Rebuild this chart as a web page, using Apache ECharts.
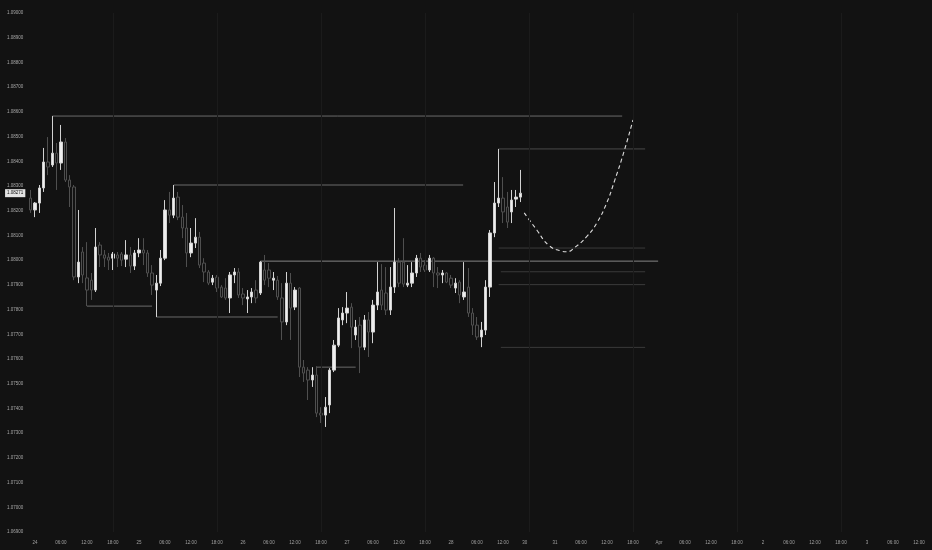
<!DOCTYPE html>
<html>
<head>
<meta charset="utf-8">
<script src="https://cdn.jsdelivr.net/npm/echarts@6/dist/echarts.min.js"></script>
<style>
html,body{margin:0;padding:0;background:#121212;}
#chart{width:932px;height:550px;}
</style>
</head>
<body>
<div id="chart"></div>
<script>
// Hourly bar slots: slot 0 = 24 Mar 00:00 (weekend hours skipped)
const firstSlot = -1;

const opens = [
1.08251,1.08203,1.08231,1.08292,1.08397,1.08385,1.08433,1.08393,1.08478,1.08324,
1.08296,1.07932,1.08033,1.07928,1.07919,1.07879,1.08061,1.08021,1.08012,1.08008,
1.08021,1.08025,1.08004,1.08021,1.07976,1.08029,1.08041,1.08029,1.07948,1.07879,
1.07907,1.08008,1.08203,1.08182,1.08255,1.08174,1.08130,1.08029,1.08069,1.08093,
1.07988,1.07952,1.07911,1.07931,1.07891,1.07887,1.07847,1.07940,1.07952,1.07863,
1.07843,1.07851,1.07879,1.07867,1.07960,1.07960,1.07919,1.07919,1.07847,1.07750,
1.07907,1.07810,1.07887,1.07567,1.07555,1.07515,1.07535,1.07381,1.07373,1.07414,
1.07555,1.07656,1.07758,1.07786,1.07810,1.07697,1.07737,1.07648,1.07758,1.07709,
1.07818,1.07879,1.07867,1.07798,1.07891,1.07992,1.07992,1.07899,1.07907,1.07948,
1.08008,1.07980,1.07960,1.08008,1.07948,1.07940,1.07948,1.07927,1.07887,1.07911,
1.07851,1.07891,1.07786,1.07737,1.07689,1.07717,1.07891,1.08110,1.08231,1.08251,
1.08215,1.08195,1.08247,1.08255
];
const closes = [
1.08203,1.08231,1.08292,1.08397,1.08377,1.08433,1.08393,1.08478,1.08324,1.08296,
1.07932,1.07992,1.07940,1.07879,1.07879,1.08053,1.08021,1.08008,1.08000,1.08025,
1.08008,1.08000,1.08021,1.07976,1.08029,1.08041,1.08029,1.07948,1.07899,1.07907,
1.08008,1.08203,1.08182,1.08251,1.08174,1.08130,1.08029,1.08069,1.08093,1.07980,
1.07952,1.07907,1.07927,1.07887,1.07851,1.07847,1.07940,1.07952,1.07859,1.07847,
1.07851,1.07871,1.07847,1.07992,1.07919,1.07927,1.07927,1.07851,1.07750,1.07907,
1.07806,1.07879,1.07567,1.07543,1.07515,1.07535,1.07381,1.07373,1.07405,1.07555,
1.07656,1.07766,1.07786,1.07806,1.07729,1.07729,1.07648,1.07758,1.07709,1.07818,
1.07871,1.07818,1.07798,1.07891,1.07992,1.07907,1.07903,1.07907,1.07948,1.08008,
1.07972,1.07960,1.08008,1.07948,1.07940,1.07948,1.07911,1.07899,1.07907,1.07859,
1.07871,1.07786,1.07737,1.07689,1.07717,1.07891,1.08110,1.08231,1.08251,1.08195,
1.08154,1.08243,1.08255,1.08271
];
const lows = [
1.08191,1.08174,1.08191,1.08276,1.08344,1.08377,1.08284,1.08365,1.08316,1.08215,
1.07919,1.07907,1.07907,1.07814,1.07839,1.07871,1.07972,1.07972,1.07960,1.07960,
1.07972,1.07976,1.07972,1.07948,1.07960,1.08012,1.07980,1.07932,1.07859,1.07770,
1.07895,1.08000,1.08150,1.08170,1.08162,1.08089,1.07972,1.08012,1.08049,1.07968,
1.07911,1.07899,1.07899,1.07871,1.07847,1.07839,1.07786,1.07907,1.07847,1.07818,
1.07786,1.07826,1.07826,1.07859,1.07899,1.07891,1.07879,1.07839,1.07677,1.07737,
1.07677,1.07798,1.07527,1.07507,1.07434,1.07487,1.07365,1.07341,1.07325,1.07381,
1.07547,1.07648,1.07737,1.07745,1.07644,1.07677,1.07543,1.07636,1.07608,1.07664,
1.07798,1.07798,1.07778,1.07778,1.07867,1.07891,1.07891,1.07891,1.07891,1.07932,
1.07952,1.07952,1.07952,1.07891,1.07887,1.07907,1.07907,1.07887,1.07867,1.07826,
1.07839,1.07770,1.07697,1.07677,1.07648,1.07697,1.07851,1.08093,1.08215,1.08150,
1.08130,1.08150,1.08215,1.08235
];
const highs = [
1.08284,1.08235,1.08304,1.08454,1.08498,1.08583,1.08474,1.08547,1.08494,1.08344,
1.08304,1.08203,1.08053,1.08073,1.07948,1.08130,1.08073,1.08041,1.08029,1.08033,
1.08033,1.08033,1.08081,1.08053,1.08041,1.08089,1.08089,1.08041,1.07980,1.07940,
1.08041,1.08243,1.08276,1.08304,1.08276,1.08223,1.08191,1.08130,1.08170,1.08114,
1.08008,1.07960,1.07940,1.07940,1.07899,1.07927,1.07952,1.07968,1.07968,1.07887,
1.07879,1.07887,1.07919,1.07996,1.08021,1.07988,1.07952,1.07936,1.07907,1.07952,
1.07948,1.07891,1.07891,1.07596,1.07567,1.07567,1.07571,1.07405,1.07446,1.07563,
1.07677,1.07806,1.07810,1.07871,1.07826,1.07758,1.07770,1.07778,1.07790,1.07839,
1.07992,1.07984,1.07972,1.07972,1.08211,1.08008,1.08089,1.07980,1.07992,1.08021,
1.08029,1.08000,1.08021,1.08012,1.07972,1.07960,1.07952,1.07940,1.07927,1.07919,
1.07992,1.07968,1.07806,1.07770,1.07750,1.07919,1.08122,1.08316,1.08450,1.08336,
1.08276,1.08284,1.08284,1.08365
];

const lastPrice = 1.08271;

// x-axis tick labels
const xTickSlots = [0,6,12,18,24,30,36,42,48,54,60,66,72,78,84,90,96,102,108,113,120,126,132,138,144,150,156,162,168,174,180,186,192,198,204];
const xTickLabels = ["24","06:00","12:00","18:00","25","06:00","12:00","18:00","26","06:00","12:00","18:00","27","06:00","12:00","18:00","28","06:00","12:00","30","31","06:00","12:00","18:00","Apr","06:00","12:00","18:00","2","06:00","12:00","18:00","3","06:00","12:00"];

// session separators
const sessionSlots = [18,42,66,90,114,138,162,186];

// horizontal levels
const levelPrices = [1.08583,1.08304,1.07814,1.07770,1.07996,1.07567,1.08450,1.08049,1.07953,1.07901,1.07647];
const levelFrom   = [4,32,12,28,52,65,107,107,107.5,107,107.5];
const levelTo     = [135.5,98.8,27,56,143.8,74,140.8,140.8,140.8,140.8,140.8];

// projected path
const projSlots  = [112.9,115.8,118.5,121.2,122.7,124.6,127.3,129.6,131.9,133.8,135.8,138.0];
const projPrices = [1.08191,1.08122,1.08061,1.08038,1.08034,1.08052,1.08095,1.08149,1.08230,1.08324,1.08432,1.08567];

// styles (kept separate from data)
const levelColors = ['#6a6a6a','#6a6a6a','#6a6a6a','#6a6a6a','#858585','#6a6a6a','#4a4a4a','#3a3a3a','#3a3a3a','#3a3a3a','#3a3a3a'];

const candleData = opens.map((o, i) => [firstSlot + i, o, closes[i], lows[i], highs[i]]);

const chart = echarts.init(document.getElementById('chart'), null, {renderer: 'canvas'});

const series = [];
series.push({
  type: 'line',
  data: [],
  silent: true,
  z: 0,
  markLine: {
    silent: true,
    symbol: ['none', 'none'],
    label: {show: false},
    lineStyle: {color: '#1b1b1b', width: 1, type: 'solid'},
    data: sessionSlots.map(s => ({xAxis: s}))
  }
});
levelPrices.forEach((p, i) => {
  series.push({
    type: 'line',
    data: [[levelFrom[i], p], [levelTo[i], p]],
    symbol: 'none',
    silent: true,
    z: 1,
    lineStyle: {color: levelColors[i], width: 1}
  });
});
series.push({
  type: 'candlestick',
  data: candleData,
  encode: {x: 0, y: [1, 2, 3, 4]},
  barWidth: 3,
  clip: false,
  z: 3,
  itemStyle: {
    color: '#eeeeee',
    color0: '#131313',
    borderColor: '#d2d2d2',
    borderColor0: '#4f4f4f',
    borderWidth: 1
  }
});
series.push({
  type: 'line',
  data: projSlots.map((s, i) => [s, projPrices[i]]),
  smooth: 0.5,
  symbol: 'none',
  silent: true,
  clip: false,
  z: 4,
  lineStyle: {color: '#dddddd', width: 1.1, type: [4, 3]},
  markLine: {
    silent: true,
    precision: 5,
    symbol: ['none', 'none'],
    lineStyle: {color: 'rgba(0,0,0,0)', width: 0},
    label: {
      show: true,
      position: 'start',
      distance: 1,
      formatter: lastPrice.toFixed(5),
      color: '#111111',
      backgroundColor: '#e4e4e4',
      padding: [2, 2, 1, 2],
      fontSize: 4.5,
      fontFamily: 'Liberation Sans'
    },
    data: [{yAxis: lastPrice}]
  }
});

chart.setOption({
  backgroundColor: '#121212',
  animation: false,
  grid: {left: 26.33, right: 0, top: 13, bottom: 18},
  xAxis: {
    type: 'value',
    min: -2,
    max: 207,
    axisLine: {show: false},
    axisTick: {show: false},
    splitLine: {show: false},
    axisLabel: {
      customValues: xTickSlots,
      formatter: v => { const k = xTickSlots.indexOf(v); return k >= 0 ? xTickLabels[k] : ''; },
      color: '#a0a0a0',
      fontSize: 4.5,
      margin: 8,
      fontFamily: 'Liberation Sans',
      hideOverlap: false
    }
  },
  yAxis: {
    type: 'value',
    min: 1.069,
    max: 1.090,
    interval: 0.001,
    axisLine: {show: false},
    axisTick: {show: false},
    splitLine: {show: false},
    axisLabel: {
      formatter: v => v.toFixed(5),
      color: '#a8a8a8',
      fontSize: 4.5,
      margin: 3,
      fontFamily: 'Liberation Sans'
    }
  },
  series: series
});
</script>
</body>
</html>
